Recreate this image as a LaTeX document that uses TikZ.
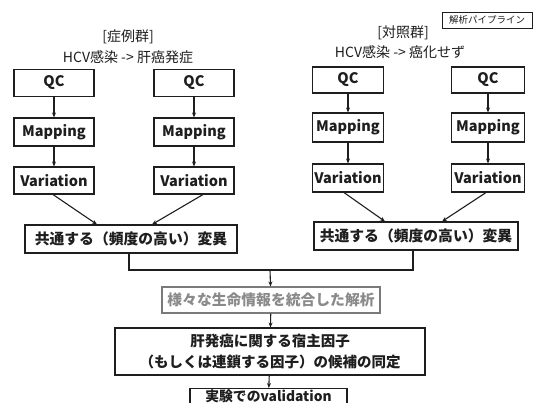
\documentclass[tikz,border=0pt]{standalone}
\usepackage{fontspec}
\setmainfont{Noto Sans CJK JP}
\usetikzlibrary{arrows.meta,calc}
\definecolor{ink}{HTML}{1E1E1E}
\definecolor{graytxt}{HTML}{8A8A8A}
\definecolor{grayline}{HTML}{7A7A7A}
\tikzset{
  box/.style={draw=ink, line width=1.1pt, inner sep=0pt, align=center, font=\fontsize{14.5}{17}\selectfont\bfseries, text=ink},
  stepbox/.style={box, minimum height=27pt},
  arr/.style={draw=ink, line width=1.1pt, -{Stealth[length=5pt,width=4pt]}},
  ln/.style={draw=ink, line width=1.1pt},
  title/.style={inner sep=0pt, font=\fontsize{14}{16}\selectfont, text=ink},
}
\begin{document}
\begin{tikzpicture}[x=1pt,y=-1pt]
\clip (0,0) rectangle (537,402);
\fill[white] (0,0) rectangle (537,402);
% titles
\node[title] (t1a) at (128,37) {[症例群]};
\node[title] (t1b) at (128,57) {HCV感染 -> 肝癌発症};
\node[title] (t2a) at (403,33) {[対照群]};
\node[title] (t2b) at (400,52) {HCV感染 -> 癌化せず};
\node[draw=ink, line width=0.8pt, minimum width=90pt, minimum height=16pt, inner sep=0pt,
      font=\fontsize{9.5}{11}\selectfont, text=ink] (lab) at (487,20) {解析パイプライン};
% left group
\node[stepbox, minimum width=80pt] (q1) at (54,83) {QC};
\node[stepbox, minimum width=80pt, minimum height=28pt] (m1) at (54,132) {Mapping};
\node[stepbox, minimum width=80pt] (v1) at (54,180.5) {Variation};
\node[stepbox, minimum width=80pt] (q2) at (194,83) {QC};
\node[stepbox, minimum width=80pt, minimum height=28pt] (m2) at (194,132) {Mapping};
\node[stepbox, minimum width=80pt] (v2) at (194,180.5) {Variation};
% right group
\node[stepbox, minimum width=71pt, minimum height=26pt] (q3) at (348,80) {QC};
\node[stepbox, minimum width=71pt, minimum height=29pt] (m3) at (348,127.5) {Mapping};
\node[stepbox, minimum width=71pt, minimum height=28pt] (v3) at (348,178) {Variation};
\node[stepbox, minimum width=73pt, minimum height=26pt] (q4) at (488,80) {QC};
\node[stepbox, minimum width=73pt, minimum height=29pt] (m4) at (488,127.5) {Mapping};
\node[stepbox, minimum width=73pt, minimum height=28pt] (v4) at (488,178) {Variation};
% common variation
\node[box, minimum width=212pt, minimum height=28pt, font=\fontsize{14.8}{17}\selectfont\bfseries] (c1) at (131,239) {共通する（頻度の高い）変異};
\node[box, minimum width=204pt, minimum height=28pt, font=\fontsize{14.8}{17}\selectfont\bfseries] (c2) at (416,236) {共通する（頻度の高い）変異};
% integration
\node[box, draw=grayline, text=graytxt, minimum width=218pt, minimum height=26pt, font=\fontsize{14.8}{17}\selectfont\bfseries] (g) at (271,300) {様々な生命情報を統合した解析};
\node[box, minimum width=310pt, minimum height=47pt, font=\fontsize{14.5}{21}\selectfont\bfseries] (h) at (270,351.5) {肝発癌に関する宿主因子\\（もしくは連鎖する因子）の候補の同定};
\node[box, anchor=north, minimum width=157pt, inner ysep=0.5pt, text height=12pt, text depth=6pt, font=\fontsize{13.8}{16}\selectfont\bfseries] (f) at (268.5,388) {実験でのvalidation};
% arrows
\draw[arr] (q1) -- (m1);
\draw[arr] (m1) -- (v1);
\draw[arr] (q2) -- (m2);
\draw[arr] (m2) -- (v2);
\draw[arr] (q3) -- (m3);
\draw[arr] (m3) -- (v3);
\draw[arr] (q4) -- (m4);
\draw[arr] (m4) -- (v4);
\draw[arr] ($(v1.south)+(-1,0)$) -- ($(c1.north)+(-34,0)$);
\draw[arr] ($(v2.south)+(9,0)$) -- ($(c1.north)+(21,0)$);
\draw[arr] ($(v3.south)+(-4,0)$) -- ($(c2.north)+(-31,0)$);
\draw[arr] ($(v4.south)+(-2,0)$) -- ($(c2.north)+(26,0)$);
\coordinate (j) at (270,270);
\draw[ln] ($(c1.south)+(-2,0)$) |- (j) -| ($(c2.south)+(-3,0)$);
\draw[arr] (j) -- (g);
\draw[arr] (g) -- (h);
\draw[arr] (h) -- (f);
\end{tikzpicture}
\end{document}
